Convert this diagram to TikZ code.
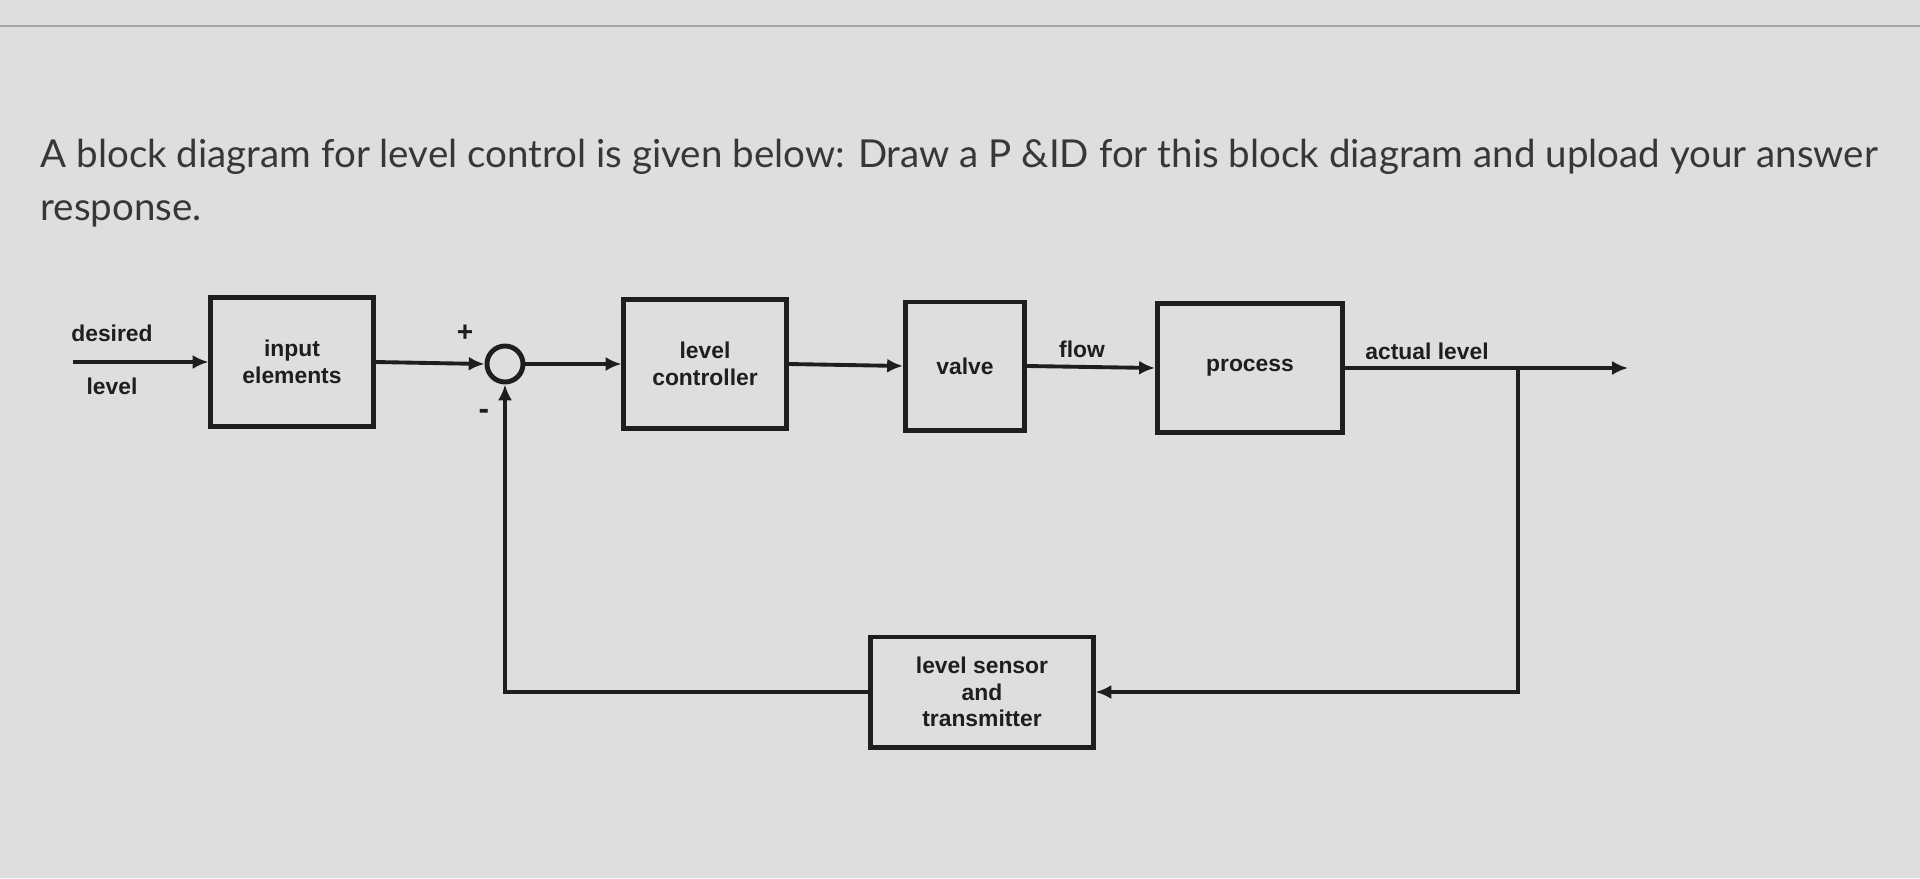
\documentclass[tikz,border=0pt]{standalone}
\usepackage{fontspec}
\setmainfont{Lato}
\newfontfamily\lblfont{Liberation Sans}
\usetikzlibrary{arrows.meta}
\definecolor{bgcol}{RGB}{222,222,222}
\definecolor{inkcol}{RGB}{30,30,30}
\definecolor{headcol}{RGB}{55,55,55}
\tikzset{
  blk/.style={draw=inkcol, line width=1.4pt, rectangle, inner sep=0pt, align=center,
              font=\lblfont\bfseries\fontsize{6.5}{7.5}\selectfont, text=inkcol},
  sig/.style={draw=inkcol, line width=1.1pt, -{Latex[length=4.5pt,width=4pt]}},
  lbl/.style={font=\lblfont\bfseries\fontsize{6.5}{7.5}\selectfont, text=inkcol, inner sep=0pt},
  head/.style={font=\fontsize{10.95}{13}\selectfont, text=headcol, anchor=base west, inner sep=0pt}
}
\begin{document}
\begin{tikzpicture}[x=0.01cm,y=-0.01cm]
\fill[bgcol] (0,0) rectangle (1920,878);
\useasboundingbox (0,0) rectangle (1920,878);
\draw[black!35, line width=0.6pt] (0,26) -- (1920,26);

% header text
\node[head] (h1) at (40,167) {A block diagram for level control is given below: Draw a P \&ID for this block diagram and upload your answer};
\node[head] (h2) at (40,220) {response.};

% blocks
\node[blk, minimum width=1.62cm, minimum height=1.29cm] (inp) at (292,362) {input\\elements};
\node[blk, minimum width=1.62cm, minimum height=1.29cm] (ctrl) at (705,364) {level\\controller};
\node[blk, minimum width=1.19cm, minimum height=1.28cm] (valve) at (965,366) {valve};
\node[blk, minimum width=1.85cm, minimum height=1.29cm] (proc) at (1250,368) {process};
\node[blk, minimum width=2.22cm, minimum height=1.10cm] (sens) at (982,692) {level sensor\\and\\transmitter};
\node[draw=inkcol, line width=1.4pt, circle, minimum size=0.36cm, inner sep=0pt] (sum) at (505,364) {};

% coordinates
\coordinate (start) at (73,362);
\coordinate (out) at (1628,368);
\coordinate (branch) at (1518,368);
\coordinate (br2) at (1518,692);
\coordinate (fb) at (505,692);

% connectors
\draw[sig] (start) -- (inp.west);
\draw[sig] (inp.east) -- (sum.west);
\draw[sig] (sum.east) -- (ctrl.west);
\draw[sig] (ctrl.east) -- (valve.west);
\draw[sig] (valve.east) -- (proc.west);
\draw[sig] (proc.east) -- (out);
\draw[sig] (branch) -- (br2) -- (sens.east);
\draw[sig] (sens.west) -- (fb) -- (sum.south);

% labels
\node[lbl] (ldes) at (112,333) {desired};
\node[lbl] (llev) at (112,386) {level};
\node[lbl] (lflow) at (1082,349) {flow};
\node[lbl] (lact) at (1427,351) {actual level};
\node[lbl, font=\lblfont\bfseries\fontsize{8}{9}\selectfont] (lplus) at (465,333) {+};
\node[lbl, font=\lblfont\bfseries\fontsize{9}{9}\selectfont] (lminus) at (484,414) {-};
\end{tikzpicture}
\end{document}
